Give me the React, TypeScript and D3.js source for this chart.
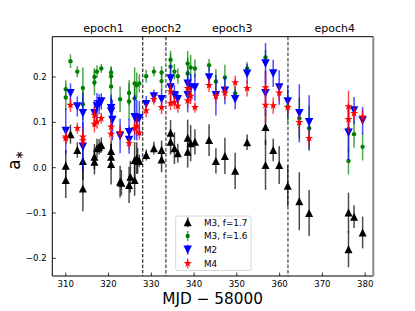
import React from "react";
import * as d3 from "d3";

// M3, f=1.7 (black, triangle up)
const m3aX = [310.0,310.0,311.1,312.7,314.0,314.0,316.7,316.7,317.3,317.8,318.3,320.6,320.6,320.6,322.7,323.0,324.8,325.1,326.1,326.1,326.6,326.8,327.2,328.8,330.6,332.4,332.4,334.5,334.5,335.4,336.2,338.5,338.5,339.2,340.2,343.5,345.1,347.2,349.6,352.4,356.7,356.7,358.5,359.9,361.9,364.6,366.9,376.1,376.1,377.4,379.4];
const m3aY = [0.004,-0.027,0.074,0.039,0.015,-0.046,0.024,0.013,0.043,0.046,0.05,0.037,0.024,0.008,-0.031,-0.033,-0.038,-0.02,-0.027,0.017,0.021,0.015,0.015,0.028,0.043,0.039,0.018,0.077,0.057,0.043,0.032,0.066,0.035,0.054,0.057,0.061,0.015,0.026,-0.007,0.056,0.09,0.006,0.039,0.006,-0.04,-0.074,-0.1,-0.099,-0.18,-0.108,-0.143];
const m3aE = [0.035,0.04,0.021,0.017,0.042,0.05,0.028,0.028,0.021,0.017,0.017,0.021,0.028,0.045,0.035,0.028,0.04,0.035,0.035,0.04,0.035,0.028,0.014,0.012,0.014,0.021,0.028,0.028,0.028,0.035,0.021,0.04,0.035,0.04,0.028,0.035,0.028,0.04,0.04,0.017,0.04,0.055,0.025,0.042,0.045,0.064,0.051,0.044,0.04,0.025,0.035];

// M3, f=1.6 (green, circle)
const m3bX = [310.0,310.0,311.1,312.7,314.0,314.0,316.7,316.7,317.3,318.3,320.6,320.6,320.6,322.7,324.8,324.8,326.1,326.1,326.6,327.2,328.8,330.6,332.4,332.4,334.5,334.5,335.4,336.2,338.5,338.5,339.2,340.2,343.5,345.1,347.2,349.6,352.4,356.7,361.9,364.6,366.9,376.1,376.1,377.4,379.4];
const m3bY = [0.173,0.155,0.235,0.212,0.176,0.14,0.2,0.188,0.212,0.219,0.21,0.202,0.179,0.151,0.165,0.146,0.186,0.153,0.182,0.186,0.202,0.212,0.21,0.191,0.238,0.223,0.212,0.202,0.23,0.208,0.221,0.219,0.226,0.19,0.199,0.164,0.219,0.243,0.135,0.109,0.087,0.015,0.085,0.074,0.046];
const m3bE = [0.02,0.028,0.015,0.012,0.045,0.035,0.02,0.028,0.014,0.01,0.014,0.02,0.04,0.028,0.028,0.04,0.035,0.035,0.028,0.02,0.014,0.011,0.014,0.02,0.02,0.028,0.017,0.017,0.028,0.035,0.028,0.02,0.014,0.028,0.028,0.017,0.014,0.017,0.035,0.045,0.05,0.03,0.05,0.03,0.03];

// M2 (blue, triangle down)
const m2X = [310.0,311.1,312.7,314.0,314.0,316.7,317.3,317.8,318.3,320.6,320.6,320.9,322.7,324.8,324.8,326.1,326.6,327.2,328.8,330.6,332.4,334.5,334.5,335.4,336.2,338.5,338.5,339.2,340.2,343.5,345.1,347.2,349.6,352.4,356.7,356.7,358.5,359.9,361.9,364.6,366.9,376.1,377.4,379.4];
const m2Y = [0.081,0.164,0.135,0.12,0.046,0.12,0.135,0.14,0.146,0.131,0.124,0.105,0.07,0.061,0.078,0.111,0.105,0.109,0.14,0.157,0.151,0.197,0.177,0.16,0.151,0.185,0.16,0.177,0.177,0.199,0.16,0.17,0.151,0.207,0.23,0.164,0.208,0.177,0.146,0.12,0.1,0.077,0.126,0.104];
const m2E = [0.05,0.022,0.022,0.045,0.055,0.03,0.03,0.022,0.018,0.03,0.03,0.045,0.038,0.03,0.03,0.05,0.045,0.038,0.018,0.015,0.022,0.03,0.03,0.022,0.018,0.03,0.038,0.03,0.03,0.022,0.045,0.03,0.022,0.022,0.045,0.05,0.03,0.038,0.035,0.064,0.06,0.06,0.03,0.03];

// M4 (red, star)
const m4X = [310.0,310.0,311.1,312.7,314.0,314.0,316.7,316.7,317.3,318.3,320.6,320.6,322.7,324.8,326.1,326.6,327.2,328.8,330.6,332.4,334.5,334.5,335.4,336.2,338.5,338.5,339.2,340.2,343.5,345.1,347.2,349.6,352.4,356.7,356.7,358.5,359.9,361.9,364.6,366.9,376.1,376.1,377.4,379.4];
const m4Y = [0.065,0.068,0.138,0.087,0.068,0.06,0.116,0.096,0.101,0.109,0.09,0.074,0.078,0.054,0.087,0.092,0.077,0.126,0.151,0.133,0.168,0.142,0.144,0.136,0.175,0.148,0.158,0.133,0.182,0.158,0.165,0.188,0.175,0.177,0.138,0.137,0.165,0.133,0.1,0.065,0.135,0.107,0.12,0.112];
const m4E = [0.012,0.015,0.015,0.012,0.018,0.015,0.018,0.018,0.015,0.012,0.018,0.018,0.015,0.012,0.015,0.018,0.015,0.015,0.012,0.015,0.018,0.015,0.015,0.015,0.018,0.015,0.018,0.012,0.015,0.015,0.015,0.015,0.018,0.035,0.04,0.018,0.018,0.015,0.018,0.018,0.035,0.03,0.015,0.015];

const xTicks = [310, 320, 330, 340, 350, 360, 370, 380];
const yTicks = [-0.2, -0.1, 0.0, 0.1, 0.2];
const epochLines = [328.0, 333.4, 361.95];
const epochLabels = ["epoch1", "epoch2", "epoch3", "epoch4"];
const epochCenters = [318.8, 332.3, 348.9, 372.9];
const legendLabels = ["M3, f=1.7", "M3, f=1.6", "M2", "M4"];

const W = 415, H = 311;
const L = 52.3, R = 373.3, T = 36.7, B = 276;
const FONT = "DejaVu Sans, sans-serif";

const x = d3.scaleLinear().domain([306.85, 381.9]).range([L, R]);
const y = d3.scaleLinear().domain([-0.239, 0.289]).range([B, T]);

function triUp(s: number) {
  const h = s / 2;
  return `M0,${-h}L${-h},${h}L${h},${h}Z`;
}
function triDown(s: number) {
  const h = s / 2;
  return `M0,${h}L${-h},${-h}L${h},${-h}Z`;
}
function star(s: number) {
  const ro = s / 2, ri = ro * 0.381966;
  const pts: string[] = [];
  for (let i = 0; i < 10; i++) {
    const r = i % 2 === 0 ? ro : ri;
    const a = -Math.PI / 2 + (i * Math.PI) / 5;
    pts.push(`${(r * Math.cos(a)).toFixed(2)},${(r * Math.sin(a)).toFixed(2)}`);
  }
  return "M" + pts.join("L") + "Z";
}

type Series = { xs: number[]; ys: number[]; es: number[]; color: string; kind: string };
const series: Series[] = [
  { xs: m3aX, ys: m3aY, es: m3aE, color: "#000000", kind: "up" },
  { xs: m3bX, ys: m3bY, es: m3bE, color: "#008000", kind: "circle" },
  { xs: m2X, ys: m2Y, es: m2E, color: "#0000ff", kind: "down" },
  { xs: m4X, ys: m4Y, es: m4E, color: "#ff0000", kind: "star" },
];

function Marker({ kind, color, cx, cy }: { kind: string; color: string; cx: number; cy: number }) {
  if (kind === "circle") return <circle cx={cx} cy={cy} r={2.2} fill={color} />;
  const d = kind === "up" ? triUp(8) : kind === "down" ? triDown(8.5) : star(8.5);
  return <path d={d} transform={`translate(${cx},${cy})`} fill={color} />;
}

export default function App() {
  return (
    <svg width={W} height={H} style={{ position: "absolute", left: 0, top: 0, background: "#fff" }}
      fontFamily={FONT}>
      <rect x={0} y={0} width={W} height={H} fill="#fff" />
      {/* epoch dividers */}
      <line x1={x(epochLines[0])} x2={x(epochLines[0])} y1={T} y2={B} stroke="#000" strokeWidth={1} strokeDasharray="3.5,1.8" />
      <line x1={x(epochLines[1])} x2={x(epochLines[1])} y1={T} y2={B} stroke="#777" strokeWidth={1.8} strokeDasharray="3.5,1.8" />
      <line x1={x(epochLines[2])} x2={x(epochLines[2])} y1={T} y2={B} stroke="#333" strokeWidth={1.1} strokeDasharray="3.5,1.8" />
      {/* data */}
      {series.map((s, si) => (
        <g key={si}>
          {s.xs.map((xv, i) => (
            <line key={"e" + i} x1={x(xv)} x2={x(xv)} y1={y(s.ys[i] - s.es[i])} y2={y(s.ys[i] + s.es[i])}
              stroke={s.color} strokeWidth={1.5} strokeOpacity={0.7} />
          ))}
          {s.xs.map((xv, i) => (
            <Marker key={"m" + i} kind={s.kind} color={s.color} cx={x(xv)} cy={y(s.ys[i])} />
          ))}
        </g>
      ))}
      {/* spines */}
      <line x1={L} x2={R} y1={T} y2={T} stroke="#000" strokeWidth={1} />
      <line x1={L} x2={R} y1={B} y2={B} stroke="#000" strokeWidth={1} />
      <line x1={L} x2={L} y1={T} y2={B} stroke="#000" strokeWidth={1} />
      <line x1={R} x2={R} y1={T} y2={B} stroke="#888" strokeWidth={2} />
      {/* x ticks */}
      {xTicks.map((t) => (
        <g key={t}>
          <line x1={x(t)} x2={x(t)} y1={B} y2={B - 3.5} stroke="#000" strokeWidth={0.8} />
          <text x={x(t)} y={287} fontSize={8.6} textAnchor="middle">{t}</text>
        </g>
      ))}
      {yTicks.map((t) => (
        <g key={t}>
          <line x1={L} x2={L + 3.5} y1={y(t)} y2={y(t)} stroke="#000" strokeWidth={0.8} />
          <text x={46.7} y={y(t) + 3.1} fontSize={8.6} textAnchor="end">
            {t < 0 ? "\u2212" + Math.abs(t).toFixed(1) : t.toFixed(1)}
          </text>
        </g>
      ))}
      {/* epoch labels */}
      {epochLabels.map((lab, i) => (
        <text key={lab} x={x(epochCenters[i])} y={31.5} fontSize={11} textAnchor="middle">{lab}</text>
      ))}
      {/* axis labels */}
      <text x={212.7} y={304} fontSize={15.3} textAnchor="middle">MJD − 58000</text>
      <text transform="translate(20,160) rotate(-90)" fontSize={17} textAnchor="middle">
        a<tspan fontSize={11} dy={3}>∗</tspan>
      </text>
      {/* legend */}
      <rect x={175.7} y={216} width={75.3} height={54.5} rx={2} fill="#fff" fillOpacity={0.8} stroke="#ccc" strokeWidth={0.8} />
      {legendLabels.map((lab, i) => {
        const ly = 222.3 + i * 13.7;
        const s = series[i];
        return (
          <g key={lab}>
            <line x1={187.7} x2={187.7} y1={ly - 5} y2={ly + 5} stroke={s.color} strokeWidth={1.5} strokeOpacity={0.7} />
            <Marker kind={s.kind} color={s.color} cx={187.7} cy={ly} />
            <text x={204} y={ly + 3.2} fontSize={8.8}>{lab}</text>
          </g>
        );
      })}
    </svg>
  );
}
